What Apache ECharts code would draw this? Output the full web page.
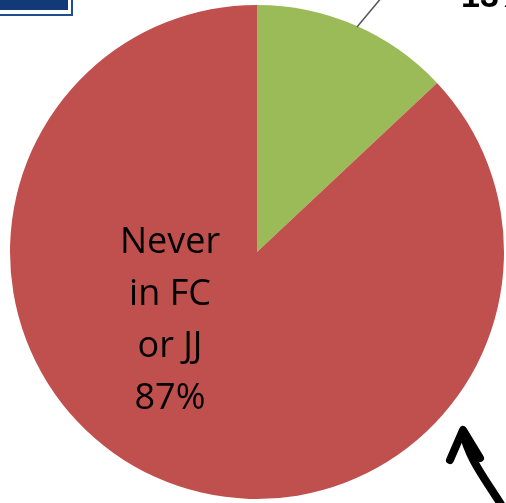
<!DOCTYPE html>
<html>
<head>
<meta charset="utf-8">
<script src="https://cdn.jsdelivr.net/npm/echarts@6/dist/echarts.min.js"></script>
<style>html,body{margin:0;padding:0;background:#fff}#c{width:506px;height:503px}</style>
</head>
<body>
<div id="c"></div>
<script>
var categories = ["Been in FC or JJ", "Never in FC or JJ"];
var values = [13, 87];
var colors = ["#9BBB59", "#C0504D"];

var chart = echarts.init(document.getElementById('c'), null, {renderer: 'canvas'});
chart.setOption({
  backgroundColor: '#ffffff',
  animation: false,
  graphic: [
    {type: 'rect', shape: {x: -5, y: -5, width: 77, height: 20}, style: {fill: '#ffffff', stroke: '#1f4e8c', lineWidth: 2}},
    {type: 'rect', shape: {x: -5, y: -5, width: 73, height: 15}, style: {fill: '#123a78'}},
    {type: 'line', shape: {x1: 357, y1: 27, x2: 382, y2: -3}, style: {stroke: '#555', lineWidth: 1.5}, z: 10},
    {type: 'text', x: 461, y: 15, style: {text: values[0] + '%', fill: '#000', font: 'bold 34px "Liberation Sans"', textVerticalAlign: 'bottom', textAlign: 'left'}, z: 10},
    {type: 'bezierCurve', shape: {x1: 502, y1: 506, cpx1: 486, cpy1: 480, cpx2: 468, cpy2: 458, x2: 463, y2: 432},
      style: {stroke: '#000', lineWidth: 8, fill: null, lineCap: 'round'}, z: 10},
    {type: 'polyline', shape: {points: [[450, 460], [463, 430], [480, 458]]},
      style: {stroke: '#000', lineWidth: 8, fill: null, lineCap: 'round', lineJoin: 'round'}, z: 10}
  ],
  series: [{
    type: 'pie',
    center: [257, 252],
    radius: 247,
    startAngle: 90,
    clockwise: true,
    silent: true,
    data: categories.map(function (c, i) {
      return {name: c, value: values[i], itemStyle: {color: colors[i]}};
    }),
    label: {
      show: true,
      position: 'inside',
      color: '#000',
      fontFamily: 'Open Sans',
      fontSize: 36,
      lineHeight: 52,
      align: 'center',
      formatter: function (p) {
        if (p.dataIndex === 1) return 'Never\nin FC\nor JJ\n' + p.value + '%';
        return '';
      }
    },
    labelLine: {show: false},
    labelLayout: function (params) {
      if (params.dataIndex === 1) {
        return {x: 170, y: 321, align: 'center', verticalAlign: 'middle'};
      }
      return {};
    }
  }]
});
</script>
</body>
</html>
